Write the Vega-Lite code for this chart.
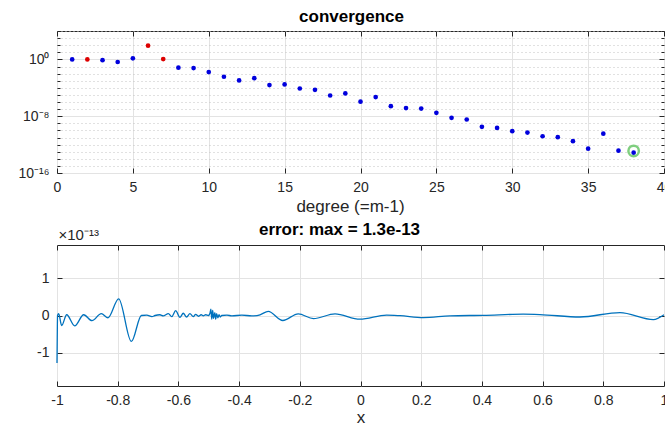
{
  "$schema": "https://vega.github.io/schema/vega-lite/v6.json",
  "padding": {"left": 17, "top": 7, "right": 0, "bottom": 0},
  "background": "#ffffff",
  "bounds": "flush",
  "spacing": 72,
  "config": {
    "font": "Liberation Sans",
    "view": {"stroke": "#262626", "strokeWidth": 1},
    "axis": {"domain": false, "labelFont": "Liberation Sans", "labelFontSize": 14, "labelColor": "#262626", "labelFlush": false, "titleFont": "Liberation Sans", "titleFontSize": 17, "titleFontWeight": "normal", "titleColor": "#262626", "tickColor": "#262626", "tickSize": -5, "tickWidth": 1, "gridColor": "#e3e3e3", "gridWidth": 1, "labelPadding": 12},
    "axisY": {"labelPadding": 13},
    "title": {"font": "Liberation Sans", "fontSize": 17, "fontWeight": "bold", "color": "#000000", "anchor": "middle"}
  },
  "datasets": {
    "coefs": [
      {"degree": 1, "coef": 1, "kind": "a"},
      {"degree": 2, "coef": 1, "kind": "b"},
      {"degree": 3, "coef": 0.79, "kind": "a"},
      {"degree": 4, "coef": 0.43, "kind": "a"},
      {"degree": 5, "coef": 1.4, "kind": "a"},
      {"degree": 6, "coef": 85, "kind": "b"},
      {"degree": 7, "coef": 1.1, "kind": "b"},
      {"degree": 8, "coef": 0.068, "kind": "a"},
      {"degree": 9, "coef": 0.06, "kind": "a"},
      {"degree": 10, "coef": 0.0166, "kind": "a"},
      {"degree": 11, "coef": 0.0036, "kind": "a"},
      {"degree": 12, "coef": 0.0011, "kind": "a"},
      {"degree": 13, "coef": 0.0023, "kind": "a"},
      {"degree": 14, "coef": 0.00024, "kind": "a"},
      {"degree": 15, "coef": 0.0003, "kind": "a"},
      {"degree": 16, "coef": 7.9e-5, "kind": "a"},
      {"degree": 17, "coef": 5.2e-5, "kind": "a"},
      {"degree": 18, "coef": 8.3e-6, "kind": "a"},
      {"degree": 19, "coef": 1.6e-5, "kind": "a"},
      {"degree": 20, "coef": 1.1e-6, "kind": "a"},
      {"degree": 21, "coef": 4.9e-6, "kind": "a"},
      {"degree": 22, "coef": 2.6e-7, "kind": "a"},
      {"degree": 23, "coef": 1.4e-7, "kind": "a"},
      {"degree": 24, "coef": 1.2e-7, "kind": "a"},
      {"degree": 25, "coef": 3.0e-8, "kind": "a"},
      {"degree": 26, "coef": 5.9e-9, "kind": "a"},
      {"degree": 27, "coef": 3.4e-9, "kind": "a"},
      {"degree": 28, "coef": 3.2e-10, "kind": "a"},
      {"degree": 29, "coef": 2.2e-10, "kind": "a"},
      {"degree": 30, "coef": 7.8e-11, "kind": "a"},
      {"degree": 31, "coef": 5.0e-11, "kind": "a"},
      {"degree": 32, "coef": 1.5e-11, "kind": "a"},
      {"degree": 33, "coef": 1.1e-11, "kind": "a"},
      {"degree": 34, "coef": 3.0e-12, "kind": "a"},
      {"degree": 35, "coef": 2.7e-13, "kind": "a"},
      {"degree": 36, "coef": 3.5e-11, "kind": "a"},
      {"degree": 37, "coef": 1.4e-13, "kind": "a"},
      {"degree": 38, "coef": 7.2e-14, "kind": "a"}
    ],
    "marker": [
      {"degree": 38, "coef": 1.3e-13}
    ],
    "error": [
      {"x": -1, "err": -1.28},
      {"x": -0.9992, "err": -0.6},
      {"x": -0.9982, "err": 0.0},
      {"x": -0.9945, "err": 0.05},
      {"x": -0.9846, "err": -0.27},
      {"x": -0.9681, "err": 0.02},
      {"x": -0.9418, "err": -0.28},
      {"x": -0.9121, "err": 0.02},
      {"x": -0.8847, "err": -0.14},
      {"x": -0.854, "err": 0.05},
      {"x": -0.832, "err": -0.06},
      {"x": -0.7968, "err": 0.45},
      {"x": -0.755, "err": -0.7},
      {"x": -0.722, "err": 0.0},
      {"x": -0.704, "err": 0.01},
      {"x": -0.687, "err": -0.03},
      {"x": -0.677, "err": 0.0},
      {"x": -0.661, "err": 0.02},
      {"x": -0.65, "err": -0.01},
      {"x": -0.633, "err": 0.05},
      {"x": -0.622, "err": -0.03},
      {"x": -0.609, "err": 0.13},
      {"x": -0.595, "err": -0.05},
      {"x": -0.584, "err": 0.06},
      {"x": -0.573, "err": -0.04},
      {"x": -0.562, "err": 0.05},
      {"x": -0.551, "err": -0.03},
      {"x": -0.543, "err": 0.03},
      {"x": -0.534, "err": -0.02},
      {"x": -0.525, "err": 0.02},
      {"x": -0.518, "err": -0.01},
      {"x": -0.51, "err": 0.02},
      {"x": -0.501, "err": 0.0},
      {"x": -0.496, "err": 0.06},
      {"x": -0.493, "err": 0.17},
      {"x": -0.49, "err": -0.1},
      {"x": -0.487, "err": 0.14},
      {"x": -0.484, "err": -0.08},
      {"x": -0.48, "err": 0.08},
      {"x": -0.477, "err": -0.1},
      {"x": -0.474, "err": 0.05},
      {"x": -0.47, "err": -0.06},
      {"x": -0.466, "err": 0.02},
      {"x": -0.462, "err": -0.04},
      {"x": -0.457, "err": 0.0},
      {"x": -0.44, "err": 0.01},
      {"x": -0.424, "err": -0.01},
      {"x": -0.391, "err": 0.01},
      {"x": -0.358, "err": -0.01},
      {"x": -0.331, "err": 0.02},
      {"x": -0.304, "err": 0.11},
      {"x": -0.256, "err": -0.135},
      {"x": -0.205, "err": 0.045},
      {"x": -0.155, "err": -0.085},
      {"x": -0.084, "err": 0.045},
      {"x": -0.002, "err": -0.1},
      {"x": 0.086, "err": 0.01},
      {"x": 0.13, "err": -0.005},
      {"x": 0.207, "err": -0.055},
      {"x": 0.295, "err": -0.01},
      {"x": 0.405, "err": 0.005},
      {"x": 0.536, "err": 0.035},
      {"x": 0.591, "err": 0.025},
      {"x": 0.723, "err": -0.04},
      {"x": 0.855, "err": 0.08},
      {"x": 0.965, "err": -0.11},
      {"x": 1.0, "err": 0.02}
    ]
  },
  "vconcat": [
    {
      "width": 607,
      "height": 142,
      "title": {"text": "convergence", "offset": 5, "dx": -9},
      "layer": [
        {
          "data": {"name": "coefs"},
          "mark": {"type": "point", "filled": true, "size": 22, "opacity": 1},
          "encoding": {
            "x": {"field": "degree", "type": "quantitative", "scale": {"domain": [0, 40], "nice": false, "zero": false},
                  "axis": {"values": [0, 5, 10, 15, 20, 25, 30, 35, 40], "grid": true, "title": "degree (=m-1)", "titlePadding": 4, "titleX": 293}},
            "y": {"field": "coef", "type": "quantitative", "scale": {"type": "log", "domain": [1e-16, 1e4], "nice": false},
                  "axis": {"values": [1e-16, 1e-15, 1e-14, 1e-13, 1e-12, 1e-11, 1e-10, 1e-9, 1e-8, 1e-7, 1e-6, 1e-5, 1e-4, 1e-3, 1e-2, 1e-1, 1, 10, 100, 1000, 10000],
                           "title": null, "grid": true,
                           "labelExpr": "datum.value == 1 ? '10⁰' : datum.value == 1e-8 ? '10⁻⁸' : datum.value == 1e-16 ? '10⁻¹⁶' : ''",
                           "gridDash": {"condition": {"test": "datum.value == 1 || datum.value == 1e-8 || datum.value == 1e-16", "value": []}, "value": [1, 3]},
                           "gridColor": {"condition": {"test": "datum.value == 1 || datum.value == 1e-8 || datum.value == 1e-16", "value": "#e3e3e3"}, "value": "#c2c2c2"},
                           "tickSize": {"condition": {"test": "datum.value == 1 || datum.value == 1e-8 || datum.value == 1e-16", "value": -5}, "value": -3}}},
            "color": {"field": "kind", "type": "nominal", "scale": {"domain": ["a", "b"], "range": ["#0000dd", "#dd0000"]}, "legend": null}
          }
        },
        {
          "data": {"name": "marker"},
          "mark": {"type": "point", "filled": false, "size": 110, "strokeWidth": 2.5, "color": "#7fcf7f", "opacity": 1},
          "encoding": {
            "x": {"field": "degree", "type": "quantitative",
                  "axis": {"orient": "top", "values": [0, 5, 10, 15, 20, 25, 30, 35, 40], "labels": false, "grid": false, "title": null}},
            "y": {"field": "coef", "type": "quantitative",
                  "axis": {"orient": "right", "values": [1e-16, 1e-15, 1e-14, 1e-13, 1e-12, 1e-11, 1e-10, 1e-9, 1e-8, 1e-7, 1e-6, 1e-5, 1e-4, 1e-3, 1e-2, 1e-1, 1, 10, 100, 1000, 10000],
                           "labels": false, "grid": false, "title": null,
                           "tickSize": {"condition": {"test": "datum.value == 1 || datum.value == 1e-8 || datum.value == 1e-16", "value": -5}, "value": -3}}}
          }
        }
      ],
      "resolve": {"axis": {"x": "independent", "y": "independent"}}
    },
    {
      "width": 607,
      "height": 141,
      "title": {"text": "error: max = 1.3e-13", "offset": -12, "dx": -21},
      "layer": [
        {
          "data": {"name": "error"},
          "mark": {"type": "line", "interpolate": "monotone", "color": "#0072bd", "strokeWidth": 1.3},
          "encoding": {
            "x": {"field": "x", "type": "quantitative", "scale": {"domain": [-1, 1], "nice": false, "zero": false},
                  "axis": {"values": [-1, -0.8, -0.6, -0.4, -0.2, 0, 0.2, 0.4, 0.6, 0.8, 1], "grid": true, "title": "x", "titlePadding": 2,
                           "labelExpr": "toString(round(datum.value*10)/10)"}},
            "y": {"field": "err", "type": "quantitative", "scale": {"domain": [-1.9, 1.9], "nice": false, "zero": false},
                  "axis": {"values": [-1, 0, 1], "grid": true, "labelExpr": "toString(datum.value)",
                           "title": "×10⁻¹³", "titleAngle": 0, "titleX": 1, "titleY": -6, "titleAlign": "left", "titleBaseline": "alphabetic", "titleFontSize": 15}}
          }
        },
        {
          "data": {"name": "error"},
          "mark": {"type": "line", "interpolate": "monotone", "opacity": 0},
          "encoding": {
            "x": {"field": "x", "type": "quantitative",
                  "axis": {"orient": "top", "values": [-1, -0.8, -0.6, -0.4, -0.2, 0, 0.2, 0.4, 0.6, 0.8, 1], "labels": false, "grid": false, "title": null}},
            "y": {"field": "err", "type": "quantitative",
                  "axis": {"orient": "right", "values": [-1, 0, 1], "labels": false, "grid": false, "title": null}}
          }
        }
      ],
      "resolve": {"axis": {"x": "independent", "y": "independent"}}
    }
  ]
}
